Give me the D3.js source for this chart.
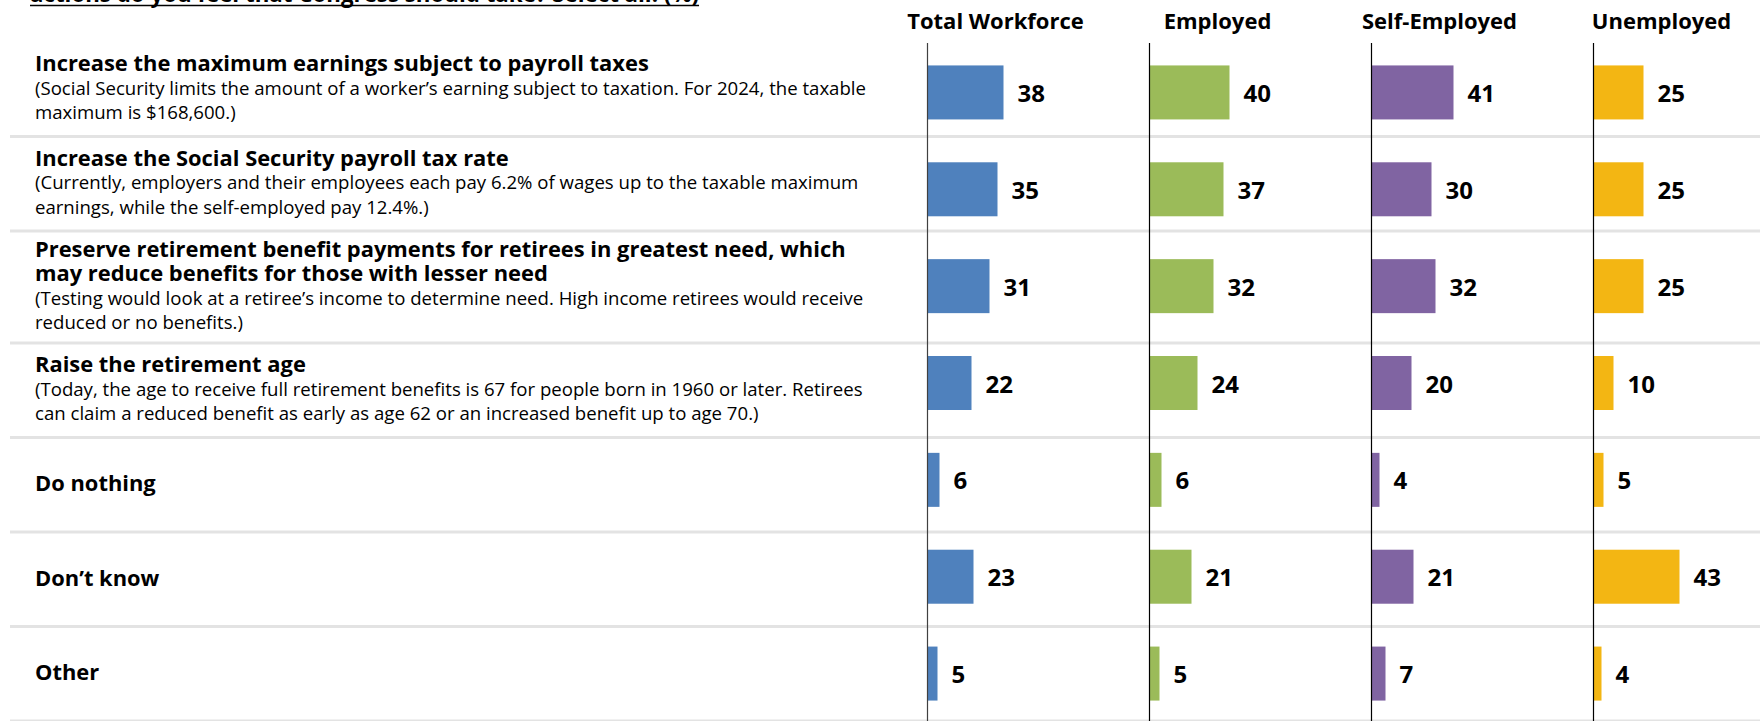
<!DOCTYPE html>
<html>
<head>
<meta charset="utf-8">
<script src="https://cdn.jsdelivr.net/npm/d3@7"></script>
<style>
  html, body { margin: 0; padding: 0; background: #fff; }
  svg { display: block; font-family: "Open Sans", "Noto Sans", sans-serif; }
</style>
</head>
<body>
<svg id="chart" width="1760" height="721"></svg>
<script>
// ---------- data ----------
const chartTitle = "actions do you feel that Congress should take? Select all. (%)";
const categories = [
  "Increase the maximum earnings subject to payroll taxes",
  "Increase the Social Security payroll tax rate",
  "Preserve retirement benefit",
  "Raise the retirement age",
  "Do nothing",
  "Don’t know",
  "Other"
];
const categoryTitleLines = [
  ["Increase the maximum earnings subject to payroll taxes"],
  ["Increase the Social Security payroll tax rate"],
  ["Preserve retirement benefit payments for retirees in greatest need, which", "may reduce benefits for those with lesser need"],
  ["Raise the retirement age"],
  ["Do nothing"],
  ["Don’t know"],
  ["Other"]
];
const categoryNoteLines = [
  ["(Social Security limits the amount of a worker’s earning subject to taxation. For 2024, the taxable", "maximum is $168,600.)"],
  ["(Currently, employers and their employees each pay 6.2% of wages up to the taxable maximum", "earnings, while the self-employed pay 12.4%.)"],
  ["(Testing would look at a retiree’s income to determine need. High income retirees would receive", "reduced or no benefits.)"],
  ["(Today, the age to receive full retirement benefits is 67 for people born in 1960 or later. Retirees", "can claim a reduced benefit as early as age 62 or an increased benefit up to age 70.)"],
  [], [], []
];
const seriesNames = ["Total Workforce", "Employed", "Self-Employed", "Unemployed"];
const totalWorkforce = [38, 35, 31, 22, 6, 23, 5];
const employed       = [40, 37, 32, 24, 6, 21, 5];
const selfEmployed   = [41, 30, 32, 20, 4, 21, 7];
const unemployed     = [25, 25, 25, 10, 5, 43, 4];
const seriesColors = ["#4f81bd", "#9bbb59", "#8064a2", "#f3b613"];
const seriesValues = [totalWorkforce, employed, selfEmployed, unemployed];

// ---------- layout ----------
const svg = d3.select("#chart");
const W = 1760, H = 721;

const panelX = d3.scalePoint().domain(seriesNames).range([927.5, 1593.5]);
const xVal = d3.scaleLinear().domain([0, 50]).range([0, 100]);
const yRow = d3.scalePoint().domain(categories).range([44, 722]).padding(0.5);
const barH = 54;

const lineH = 24.5;
let cellTop = 42;
const cells = categories.map((c, i) => {
  const n = categoryTitleLines[i].length + categoryNoteLines[i].length;
  const h = Math.max(94.5, n * lineH + 14);
  const cell = { top: cellTop, h, n, i };
  cellTop += h;
  return cell;
});

// title (cut off at the top)
const titleG = svg.append("g");
const titleText = titleG.append("text")
  .attr("x", 30).attr("y", 1.5)
  .attr("font-size", 22.3).attr("font-weight", 700).attr("fill", "#000")
  .text(chartTitle);
const tw = titleText.node().getComputedTextLength();
titleG.append("line")
  .attr("x1", 30).attr("x2", 30 + tw)
  .attr("y1", 5.5).attr("y2", 5.5)
  .attr("stroke", "#000").attr("stroke-width", 1.6);

// separators
svg.append("g").selectAll("line").data(cells).join("line")
  .attr("x1", 10).attr("x2", W)
  .attr("y1", d => d.top + d.h).attr("y2", d => d.top + d.h)
  .attr("stroke", "#e3e3e3").attr("stroke-width", 3);

// category text
const textG = svg.append("g");
cells.forEach(cell => {
  const i = cell.i;
  const lines = categoryTitleLines[i].map(t => ({ t, bold: true }))
    .concat(categoryNoteLines[i].map(t => ({ t, bold: false })));
  const center = cell.top + cell.h / 2 - 2;
  const y0 = center - (lines.length - 1) / 2 * lineH;
  lines.forEach((ln, j) => {
    textG.append("text")
      .attr("x", 35).attr("y", y0 + j * lineH)
      .attr("dominant-baseline", "central")
      .attr("font-size", ln.bold ? 21.9 : 18.6)
      .attr("font-weight", ln.bold ? 700 : 400)
      .attr("fill", "#000")
      .text(ln.t);
  });
});

// panels
seriesNames.forEach((s, k) => {
  const g = svg.append("g").attr("transform", `translate(${panelX(s)},0)`);
  g.append("text")
    .attr("x", 68).attr("y", 20)
    .attr("text-anchor", "middle").attr("dominant-baseline", "central")
    .attr("font-size", 22).attr("font-weight", 700).attr("fill", "#000")
    .text(s);
  const vals = seriesValues[k];
  g.selectAll("rect").data(categories).join("rect")
    .attr("x", 0)
    .attr("y", c => yRow(c) - barH / 2)
    .attr("width", (c, i) => xVal(vals[i]))
    .attr("height", barH)
    .attr("fill", seriesColors[k]);
  g.selectAll("text.val").data(categories).join("text")
    .attr("class", "val")
    .attr("x", (c, i) => xVal(vals[i]) + 14)
    .attr("y", c => yRow(c))
    .attr("dominant-baseline", "central")
    .attr("font-size", 24).attr("font-weight", 700).attr("fill", "#000")
    .text((c, i) => vals[i]);
  g.append("line")
    .attr("x1", 0).attr("x2", 0).attr("y1", 43).attr("y2", H)
    .attr("stroke", k === 0 ? "#404040" : "#000").attr("stroke-width", 1.2);
});
</script>
</body>
</html>
